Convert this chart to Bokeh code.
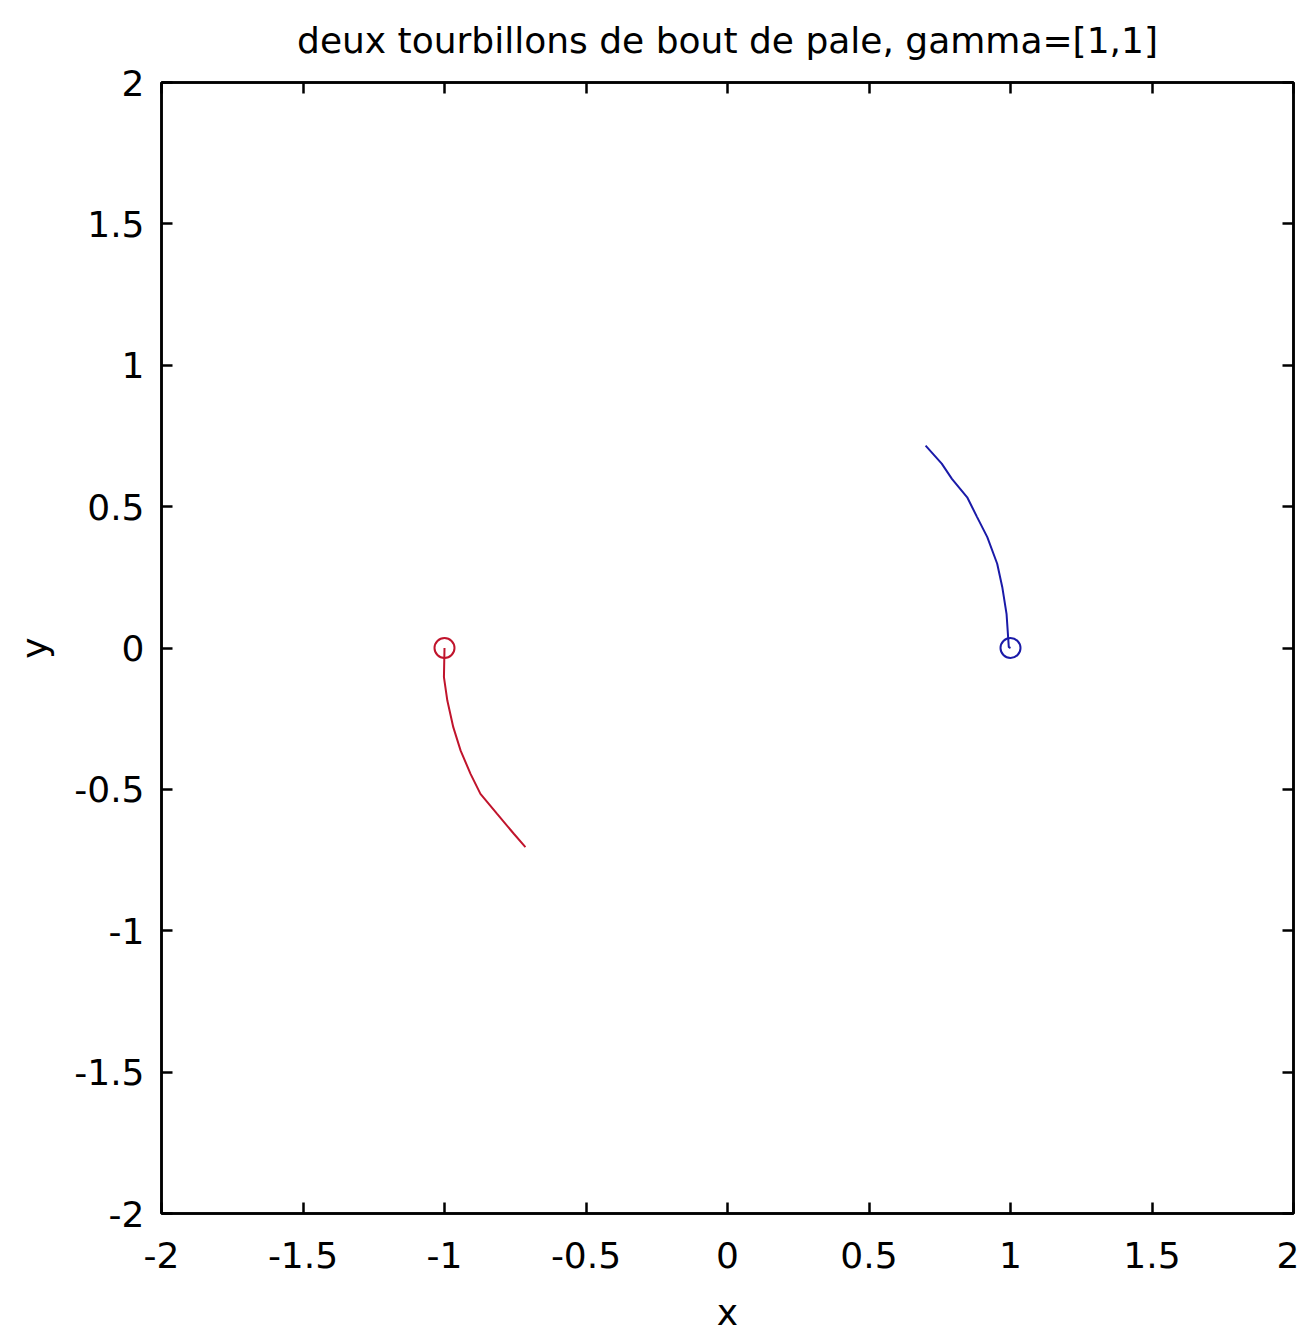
from bokeh.plotting import figure
from bokeh.models import LinearAxis, FixedTicker, Range1d
from bokeh.embed import file_html
from bokeh.resources import INLINE

# Data
blue_x = [1.0, 0.994, 0.986, 0.971, 0.953, 0.918, 0.882, 0.847, 0.793, 0.757, 0.70]
blue_y = [0.0, 0.003, 0.121, 0.215, 0.298, 0.392, 0.463, 0.533, 0.598, 0.652, 0.716]
red_x = [-1.0, -1.002, -0.99, -0.969, -0.943, -0.908, -0.873, -0.814, -0.755, -0.714]
red_y = [0.0, -0.103, -0.186, -0.280, -0.363, -0.445, -0.516, -0.587, -0.657, -0.704]
start_x = [1.0, -1.0]
start_y = [0.0, 0.0]
start_colors = ["#1a1aa8", "#c0142c"]

tick_values = [-2, -1.5, -1, -0.5, 0, 0.5, 1, 1.5, 2]
tick_labels = ["-2", "-1.5", "-1", "-0.5", "0", "0.5", "1", "1.5", "2"]

FONT = "DejaVu Sans"
FS = "36px"

p = figure(frame_width=1132, frame_height=1131,
           x_range=Range1d(-2, 2), y_range=Range1d(-2, 2),
           output_backend="svg", toolbar_location=None,
           title="deux tourbillons de bout de pale, gamma=[1,1]",
           x_axis_label="x", y_axis_label="y",
           min_border_left=161, min_border_top=82, min_border_right=6,
           min_border_bottom=122)
p.background_fill_color = "white"
p.border_fill_color = "white"
p.outline_line_color = "black"
p.outline_line_width = 2.5
p.xgrid.visible = False
p.ygrid.visible = False

p.title.text_font = FONT
p.title.text_font_size = FS
p.title.text_font_style = "normal"
p.title.text_color = "black"
p.title.align = "center"
p.title.vertical_align = "top"
p.title.text_line_height = 0.6
p.title.standoff = 39

overrides = {v: l for v, l in zip(tick_values, tick_labels)}

for ax in p.xaxis + p.yaxis:
    ax.ticker = FixedTicker(ticks=tick_values)
    ax.major_label_overrides = overrides
    ax.major_label_text_font = FONT
    ax.major_label_text_font_size = FS
    ax.major_label_text_color = "black"
    ax.axis_label_text_font = FONT
    ax.axis_label_text_font_size = FS
    ax.axis_label_text_font_style = "normal"
    ax.axis_label_text_color = "black"
    ax.major_tick_in = 11
    ax.major_tick_out = 0
    ax.minor_tick_in = 0
    ax.minor_tick_out = 0
    ax.axis_line_width = 2.5
    ax.major_tick_line_width = 2.5
    ax.axis_line_color = "black"
    ax.major_tick_line_color = "black"

p.xaxis.major_label_standoff = 28
p.xaxis.axis_label_standoff = 21
p.yaxis.major_label_standoff = 17
p.yaxis.axis_label_standoff = 16

for side in ("above", "right"):
    ax = LinearAxis(ticker=FixedTicker(ticks=tick_values))
    ax.major_label_overrides = {v: "" for v in tick_values}
    ax.major_label_standoff = 0
    ax.major_tick_in = 11
    ax.major_tick_out = 0
    ax.minor_tick_in = 0
    ax.minor_tick_out = 0
    ax.axis_line_width = 2.5
    ax.major_tick_line_width = 2.5
    p.add_layout(ax, side)

p.line(blue_x, blue_y, line_color=start_colors[0], line_width=2)
p.line(red_x, red_y, line_color=start_colors[1], line_width=2)
p.scatter(start_x, start_y, marker="circle", size=20, fill_color=None,
          line_color=start_colors, line_width=2)

open("out.html", "w").write(file_html(p, INLINE))
